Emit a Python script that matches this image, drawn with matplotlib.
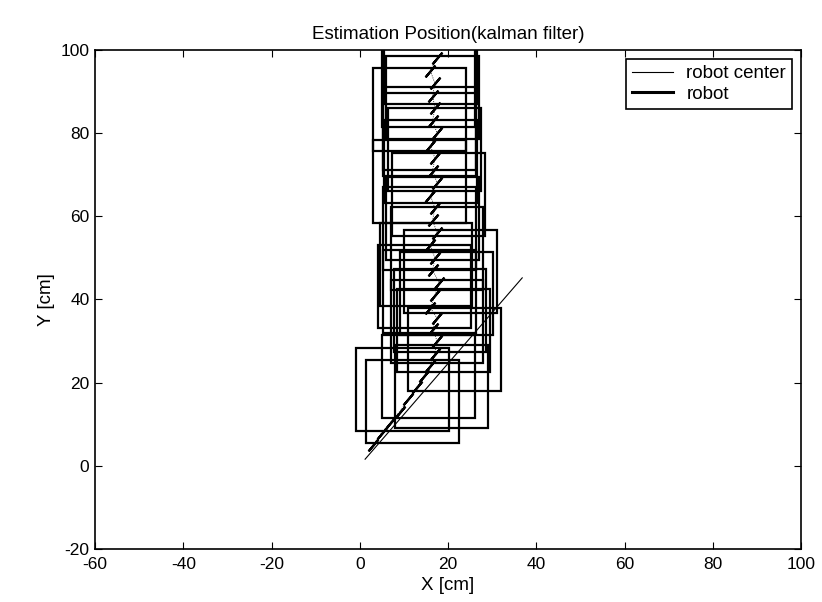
# Estimation position plot (kalman filter) - robot footprints and center track

import matplotlib
matplotlib.use('Agg')
import matplotlib.pyplot as plt
from matplotlib.patches import Rectangle

plt.rcParams['font.family'] = ['Liberation Sans', 'DejaVu Sans']
plt.rcParams['axes.unicode_minus'] = False

# robot footprint size [cm]
ROBOT_W = 21
ROBOT_H = 20

# robot centers for every drawn footprint
robot_cx = [9.6, 12.0, 15.5, 18.5,
            14.6, 15.8, 18.2, 17.5, 19.0, 20.6, 21.4, 19.6, 15.0,
            17.5, 15.8, 16.5, 17.8, 16.0, 16.9, 15.8, 15.8, 13.5, 13.5,
            16.5, 15.5, 16.0]
robot_cy = [18.4, 15.5, 21.5, 19.1,
            43.1, 41.9, 37.4, 34.7, 32.6, 46.7, 28.0, 41.5, 48.4,
            52.2, 57.1, 59.5, 65.2, 73.2, 76.1, 79.6, 81.1, 68.4, 85.7,
            88.5, 91.5, 97.0]

# estimated robot center track
center_x = [3, 5, 7, 9, 11, 13, 14.5, 16, 17, 17.5, 16.5, 17.5, 16, 17, 18,
            16.5, 17, 16, 17.5, 16.5, 17, 16, 17.5, 16.5, 17, 16, 17.5, 16.5,
            17, 16.5, 17, 16, 17.5]
center_y = [5, 8, 10.5, 13, 16, 19, 21.5, 24, 27, 30, 33, 35.5, 38, 41, 44,
            47, 50, 53, 56, 59, 62, 65, 68, 71, 74, 77, 80, 83, 86, 89, 92,
            95, 98]

# straight reference line through the start
guide_x = [1.2, 36.8]
guide_y = [1.6, 45.2]

fig = plt.figure(figsize=(8.22, 6.02), dpi=100)
ax = fig.add_axes([0.1156, 0.088, 0.859, 0.829])

for cx, cy in zip(robot_cx, robot_cy):
    ax.add_patch(Rectangle((cx - ROBOT_W / 2, cy - ROBOT_H / 2), ROBOT_W, ROBOT_H,
                           fill=False, edgecolor='black', linewidth=1.6))

ax.plot(guide_x, guide_y, color='black', linewidth=0.8, label='robot center')
ax.plot(center_x, center_y, color='black', linewidth=0.6, linestyle=':')
ax.plot(center_x, center_y, linestyle='none', marker=(2, 2, -40),
        markersize=11, markeredgewidth=1.6, color='black')
ax.plot([], [], color='black', linewidth=2.2, label='robot')

ax.set_xlim(-60, 100)
ax.set_ylim(-20, 100)
ax.set_xticks(range(-60, 101, 20))
ax.set_yticks(range(-20, 101, 20))
ax.tick_params(direction='in', top=True, right=True, length=5, labelsize=12.5)
ax.tick_params(axis='x', pad=6)
ax.tick_params(axis='y', pad=4)
for s in ax.spines.values():
    s.set_linewidth(1.2)

ax.set_title('Estimation Position(kalman filter)', fontsize=13.5, pad=8)
ax.set_xlabel('X [cm]', fontsize=13.5, labelpad=3)
ax.set_ylabel('Y [cm]', fontsize=13.5, labelpad=4)

leg = ax.legend(loc='upper right', fontsize=13.5, fancybox=False, framealpha=1,
                edgecolor='black', handlelength=2.2, borderaxespad=0.5,
                handletextpad=0.7, borderpad=0.3, labelspacing=0.2)
leg.get_frame().set_linewidth(1.2)

plt.savefig('out.png', dpi=100)
